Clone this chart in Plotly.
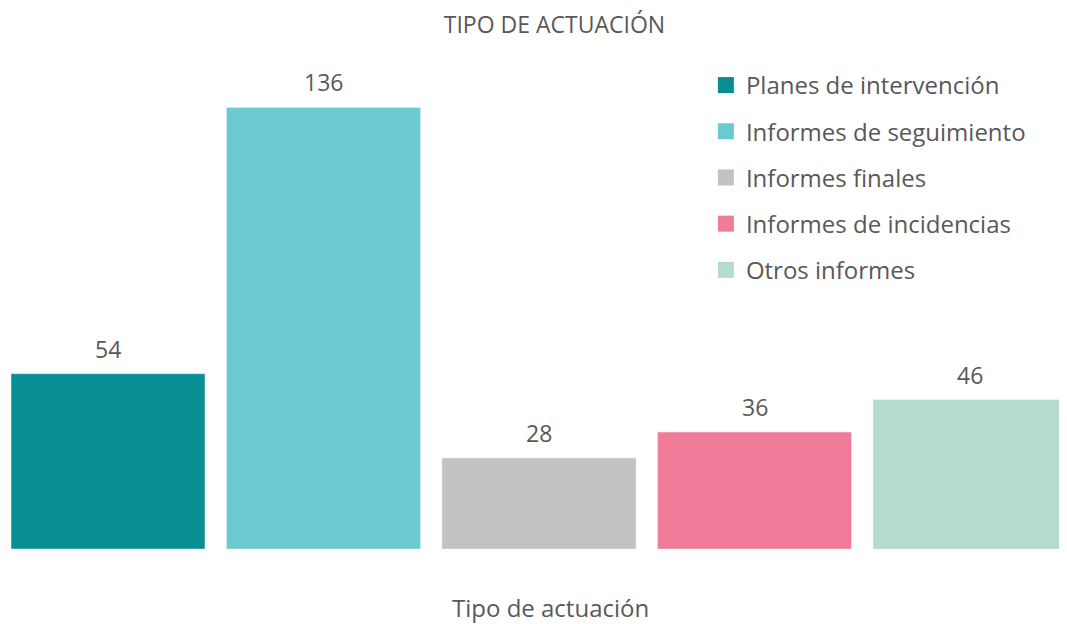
import plotly.graph_objects as go

categories = ["Planes de intervención", "Informes de seguimiento", "Informes finales",
              "Informes de incidencias", "Otros informes"]
values = [54, 136, 28, 36, 46]
colors = ["#078F94", "#6BCAD1", "#C4C1C2", "#F07C99", "#B3DBCE"]
positions = [0, 1, 2, 3, 4]

FONT = "Open Sans"
TXT = "#595959"

fig = go.Figure()
annotations = []
for i, (cat, val, col) in enumerate(zip(categories, values, colors)):
    fig.add_trace(go.Bar(
        x=[positions[i]], y=[val], width=0.9, marker_color=col, name=cat,
        showlegend=False, hoverinfo="skip",
    ))
    fig.add_trace(go.Scatter(
        x=[None], y=[None], mode="markers", name=cat, legendgroup=cat,
        marker=dict(symbol="square", size=16, color=col),
    ))
    annotations.append(dict(x=positions[i], y=val, text=str(val), xref="x", yref="y",
                            xanchor="center", yanchor="bottom", yshift=7,
                            showarrow=False, font=dict(family=FONT, size=23, color=TXT)))

annotations.append(dict(text="Tipo de actuación", xref="paper", yref="paper",
                        x=0.512, y=-0.121, xanchor="center", yanchor="middle",
                        showarrow=False, font=dict(family=FONT, size=24, color=TXT)))

fig.update_layout(
    width=1059, height=624,
    paper_bgcolor="white", plot_bgcolor="white",
    margin=dict(l=0, r=0, t=54, b=83),
    title=dict(text="TIPO DE ACTUACIÓN", x=0.516, xanchor="center", y=1 - 16.5 / 624,
               yanchor="middle", font=dict(family=FONT, size=23, color=TXT)),
    barmode="overlay",
    showlegend=True,
    legend=dict(x=0.659, y=0.998, xanchor="left", yanchor="top",
                font=dict(family=FONT, size=24, color=TXT),
                tracegroupgap=12, bgcolor="rgba(0,0,0,0)"),
    xaxis=dict(range=[-0.464, 4.45], showticklabels=False, showgrid=False, zeroline=False,
               showline=False, ticks=""),
    yaxis=dict(range=[0, 150], visible=False, showgrid=False),
    annotations=annotations,
)

fig.write_html("out.html")
